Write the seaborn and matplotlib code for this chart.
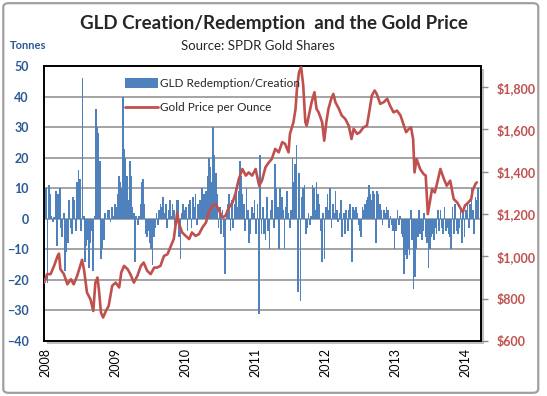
import matplotlib
matplotlib.use("Agg")
import matplotlib.pyplot as plt
from matplotlib.patches import FancyBboxPatch, Patch
from matplotlib.lines import Line2D
import seaborn as sns
import pandas as pd
import numpy as np

# --- weekly GLD flows (tonnes) ---
flows_2008 = [10, -21, 11, 8, 1, -1, 0.5, 9, -9, 8, 10, -3, -6, 2, -17, -11, -8, 6, -3, -5,
              7, 6, -4, 12, 16, 13, -4, 46, 1, -14, -9, -7, -16, -8, -4, -17, 1, 36, 30, 28,
              19, -13, -10, -7, 2, 0, 3, 3, -1, 4, 1, 5]
flows_2009 = [4, 8, 14, 12, 10, 40, 23, 20, 14, 6, 19, 14, 4, 2, -14, 1, -2, 1, 5, 12,
              13, 5, -5, -6, -4, -8, -10, -15, -6, -3, 2, -2, 3, 5, 4, 7, 2, 5, -3, 3,
              6, 1, 5, 3, -2, 6, 6, -6, -13, 2, 5, 3]
flows_2010 = [4, -4, 5, 6, -3, 7, 4, 8, -2, 5, 6, 3, 10, 8, 5, 9, 14, 20, 17, 12,
              30, 21, 15, 8, -3, 4, -5, 3, -6, -18, 3, 5, 8, -4, 6, -3, 5, 10, 4, 9,
              19, 14, 8, 5, -4, 10, 3, -8, -5, 4, 2, 6]
flows_2011 = [-5, 5, -31, 21, -5, 4, -5, -7, 7, -4, -10, 3, 6, -3, 18, 10, 4, -10, 10, 7,
              3, -10, 4, 9, 2, -3, 3, 20, 12, 18, 24, -24, 15, -27, 7, 10, 11, -5, -3, 2,
              -2, 1, 11, 10, 3, 12, 8, 5, -4, -14, 2, -13]
flows_2012 = [4, 8, 3, 10, -3, 5, 2, 9, 3, -1, 2, 6, -6, 2, -5, 3, -4, 3, 5, -14,
              4, 3, 4, 2, -2, -4, -6, 4, 3, 5, 6, 7, 11, 8, 6, 9, 8, -8, 9, 8,
              5, 3, -2, 3, 2, 4, 3, -3, 1, -2, -4, -10]
flows_2013 = [-4, 3, -2, 1, -5, -6, -18, -12, -13, -10, -12, 3, -7, -23, -19, -10, -6, 3, -5, -7,
              -4, 2, -6, -8, -16, -10, -6, -5, -7, -3, -5, 3, -4, 3, -3, -5, 4, -4, -3, -5,
              -6, -10, 4, -5, 5, -4, -5, -3, 3, -8, 3, -6]
flows_2014 = [3, 5, -3, 5, 10, 3, -5, 7, 6, 10]

# --- gold price (USD/oz) as (decimal year, price) ---
price_t = [2007.98, 2008.02, 2008.07, 2008.12, 2008.17, 2008.19, 2008.21, 2008.26, 2008.31, 2008.36,
           2008.40, 2008.45, 2008.50, 2008.52, 2008.55, 2008.59, 2008.64, 2008.68, 2008.71, 2008.74,
           2008.76, 2008.79, 2008.82, 2008.86, 2008.90, 2008.95, 2009.00, 2009.05, 2009.08, 2009.12,
           2009.17, 2009.21, 2009.26, 2009.31, 2009.36, 2009.40, 2009.45, 2009.50, 2009.55, 2009.59,
           2009.64, 2009.69, 2009.74, 2009.79, 2009.83, 2009.88, 2009.90, 2009.95, 2010.00, 2010.05,
           2010.09, 2010.14, 2010.19, 2010.24, 2010.29, 2010.33, 2010.38, 2010.43, 2010.48, 2010.52,
           2010.57, 2010.62, 2010.67, 2010.71, 2010.76, 2010.81, 2010.86, 2010.90, 2010.95, 2011.00,
           2011.05, 2011.09, 2011.14, 2011.19, 2011.23, 2011.28, 2011.33, 2011.38, 2011.42, 2011.47,
           2011.49, 2011.54, 2011.57, 2011.59, 2011.62, 2011.65, 2011.68, 2011.71, 2011.73, 2011.76,
           2011.80, 2011.84, 2011.87, 2011.90, 2011.95, 2011.98, 2012.01, 2012.04, 2012.08, 2012.11,
           2012.14, 2012.19, 2012.23, 2012.28, 2012.33, 2012.37, 2012.40, 2012.45, 2012.49, 2012.54,
           2012.59, 2012.63, 2012.66, 2012.70, 2012.73, 2012.78, 2012.83, 2012.88, 2012.92, 2012.97,
           2013.02, 2013.07, 2013.11, 2013.15, 2013.19, 2013.22, 2013.25, 2013.27, 2013.30, 2013.35,
           2013.40, 2013.43, 2013.46, 2013.48, 2013.52, 2013.56, 2013.59, 2013.64, 2013.69, 2013.73,
           2013.78, 2013.83, 2013.88, 2013.92, 2013.96, 2013.99, 2014.04, 2014.08, 2014.10, 2014.14,
           2014.16]
price = [876, 916, 916, 955, 1002, 1013, 940, 916, 868, 892,
         868, 908, 963, 984, 932, 829, 797, 742, 876, 900,
         845, 734, 711, 742, 766, 861, 876, 853, 924, 955,
         940, 916, 876, 908, 955, 971, 932, 916, 947, 947,
         955, 1002, 1010, 1050, 1082, 1208, 1160, 1113, 1097, 1082,
         1113, 1097, 1105, 1137, 1160, 1208, 1240, 1247, 1216, 1184,
         1192, 1232, 1255, 1295, 1366, 1413, 1382, 1397, 1382, 1413,
         1334, 1358, 1421, 1445, 1460, 1508, 1492, 1540, 1532, 1492,
         1579, 1634, 1697, 1792, 1871, 1894, 1808, 1634, 1618, 1666,
         1729, 1776, 1697, 1681, 1634, 1547, 1634, 1697, 1745, 1768,
         1729, 1697, 1666, 1650, 1618, 1555, 1603, 1579, 1587, 1610,
         1618, 1697, 1760, 1784, 1768, 1721, 1729, 1745, 1713, 1681,
         1689, 1666, 1626, 1587, 1603, 1610, 1555, 1397, 1460, 1413,
         1389, 1382, 1200, 1240, 1318, 1302, 1342, 1413, 1366, 1334,
         1358, 1271, 1255, 1232, 1208, 1240, 1255, 1271, 1311, 1342,
         1350]

YEARS = ["2008", "2009", "2010", "2011", "2012", "2013", "2014"]
BLUE = "#4F81BD"
RED = "#C0504D"
AXIS_BLUE = "#2C5A93"

# --- build weekly positions as decimal years ---
frames = []
for yr, vals in zip(range(2008, 2015), [flows_2008, flows_2009, flows_2010, flows_2011,
                                        flows_2012, flows_2013, flows_2014]):
    dates = pd.date_range(f"{yr}-01-04", periods=len(vals), freq="7D")
    frames.append(pd.DataFrame({"t": dates.year + (dates.dayofyear - 1) / 365.25, "flow": vals}))
flows = pd.concat(frames, ignore_index=True)
gold = pd.DataFrame({"t": price_t, "price": price})

sns.set_style("white")
plt.rcParams["font.family"] = ["Lato", "DejaVu Sans"]

fig = plt.figure(figsize=(5.47, 3.96), dpi=100)
ax = fig.add_axes([44 / 547, 55 / 396, 437 / 547, 275 / 396])

# shadow behind plot area
fig.patches.append(FancyBboxPatch((47 / 547, 52 / 396), 437 / 547, 275 / 396, boxstyle="square,pad=0",
                                  transform=fig.transFigure, facecolor="#BFBFBF", edgecolor="none",
                                  zorder=-1))
ax.set_facecolor("white")

ax.bar(flows["t"], flows["flow"], width=9 / 365.25, color=BLUE, linewidth=0, zorder=2)
ax.set_xlim(2007.976, 2014.22)
ax.set_ylim(-40, 50)
ax.set_yticks(range(-40, 51, 10))
ax.yaxis.grid(True, color="#8C8C8C", linewidth=1.1)
ax.set_axisbelow(True)
ax.set_xticks(range(2008, 2015))
ax.set_xticklabels(YEARS, rotation=90, fontsize=9, color="black")
ax.tick_params(axis="x", length=0, pad=5)
ax.tick_params(axis="y", length=0, pad=11, labelsize=9, labelcolor=AXIS_BLUE)
for lbl in ax.get_yticklabels():
    lbl.set_fontweight("bold")
for sp in ax.spines.values():
    sp.set_color("black")
    sp.set_linewidth(1.2)

ax2 = ax.twinx()
sns.lineplot(data=gold, x="t", y="price", ax=ax2, color=RED, linewidth=1.9, zorder=3)
ax2.set_ylim(600, 1900)
ax2.set_yticks(range(600, 1801, 200))
ax2.set_yticklabels([f"${v:,}" for v in range(600, 1801, 200)])
ax2.set_ylabel("")
ax2.set_xlabel("")
ax.set_xlabel("")
ax2.tick_params(axis="y", direction="out", length=5, width=1, color="#8C8C8C", pad=6,
                labelsize=9, labelcolor=RED)
for lbl in ax2.get_yticklabels():
    lbl.set_fontweight("bold")
for sp in ax2.spines.values():
    sp.set_color("black")
    sp.set_linewidth(1.2)

handles = [Patch(facecolor=BLUE, edgecolor="none"), Line2D([], [], color=RED, linewidth=2)]
leg = ax2.legend(handles, ["GLD Redemption/Creation", "Gold Price per Ounce"],
                 loc="upper left", bbox_to_anchor=(0.16, 0.995), frameon=False, fontsize=8.5,
                 handlelength=2.8, handleheight=0.9, labelspacing=1.1, handletextpad=0.2)

fig.text(0.5, 0.94, "GLD Creation/Redemption  and the Gold Price", ha="center", va="center",
         fontsize=13.5, fontweight="bold")
fig.text(0.472, 0.885, "Source: SPDR Gold Shares", ha="center", va="center", fontsize=9.5)
fig.text(10 / 547, 0.885, "Tonnes", ha="left", va="center", fontsize=8, fontweight="bold",
         color=AXIS_BLUE)

# light grey frame around the figure
fig.patches.append(FancyBboxPatch((0.006, 0.008), 0.978, 0.984, boxstyle="round,pad=0,rounding_size=0.01",
                                  transform=fig.transFigure, facecolor="none", edgecolor="#A0A0A0",
                                  linewidth=1.6, zorder=-2))

fig.savefig("out.png", dpi=100)
